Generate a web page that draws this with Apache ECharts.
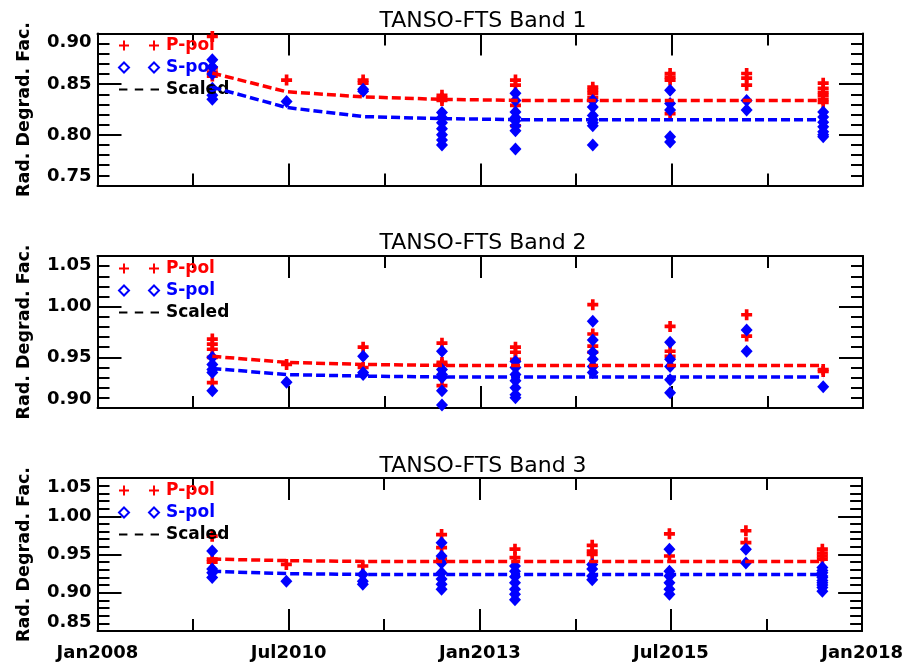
<!DOCTYPE html>
<html>
<head>
<meta charset="utf-8">
<script src="https://cdn.jsdelivr.net/npm/echarts@6/dist/echarts.min.js"></script>
<style>html,body{margin:0;padding:0;background:#fff}#c{width:906px;height:665px}</style>
</head>
<body>
<div id="c"></div>
<script>
// Observation dates (decimal years)
const obsYears = [2009.5, 2010.47, 2011.47, 2012.5, 2013.46, 2014.47, 2015.48, 2016.48, 2017.48];
const xTickLabels = ['Jan2008', 'Jul2010', 'Jan2013', 'Jul2015', 'Jan2018'];
const bandTitles = ['TANSO-FTS Band 1', 'TANSO-FTS Band 2', 'TANSO-FTS Band 3'];
const yRanges = [[0.75, 0.90], [0.90, 1.05], [0.85, 1.05]];

// Band 1
const b1P = [[0.897,0.866,0.862,0.858],[0.854],[0.854,0.851],[0.839,0.836,0.834],[0.854,0.849,0.829,0.809],[0.847,0.844,0.841,0.837],[0.8605,0.857,0.854,0.821],[0.8605,0.856,0.849],[0.851,0.846,0.842,0.839,0.835,0.832]];
const b1S = [[0.874,0.867,0.860,0.846,0.839,0.835],[0.833],[0.845,0.843],[0.822,0.817,0.812,0.806,0.800,0.795,0.790],[0.841,0.834,0.8225,0.817,0.814,0.809,0.804,0.786],[0.834,0.8275,0.819,0.815,0.812,0.809,0.790],[0.844,0.831,0.8245,0.798,0.793],[0.834,0.8245],[0.8225,0.8175,0.8125,0.808,0.803,0.800,0.798]];
const b1PScaled = [0.861,0.8425,0.8375,0.835,0.834,0.834,0.834,0.834,0.834];
const b1SScaled = [0.847,0.827,0.818,0.816,0.815,0.815,0.815,0.815,0.815];
// Band 2
const b2P = [[0.968,0.963,0.958,0.950,0.925],[0.943],[0.960,0.940],[0.964,0.945,0.943,0.922],[0.960,0.955,0.948],[1.002,0.973,0.961,0.955],[0.9805,0.956,0.951],[0.992,0.971],[0.938,0.936]];
const b2S = [[0.950,0.943,0.938,0.935,0.917],[0.9255],[0.951,0.935,0.933],[0.956,0.938,0.933,0.930,0.917,0.903],[0.946,0.940,0.933,0.927,0.920,0.913,0.910],[0.9855,0.967,0.955,0.948,0.941,0.935],[0.965,0.948,0.941,0.928,0.915],[0.977,0.956],[0.921]];
const b2PScaled = [0.951,0.945,0.943,0.942,0.942,0.942,0.942,0.942,0.942];
const b2SScaled = [0.939,0.933,0.9315,0.9306,0.9306,0.9306,0.9306,0.9306,0.9306];
// Band 3
const b3P = [[0.974,0.944,0.940],[0.937],[0.935],[0.976,0.959,0.944],[0.957,0.946],[0.962,0.9545,0.950],[0.977,0.948],[0.981,0.9655],[0.957,0.952,0.948,0.944]];
const b3S = [[0.9546,0.931,0.926,0.920],[0.915],[0.924,0.915,0.911],[0.9655,0.948,0.939,0.926,0.918,0.911,0.9045],[0.935,0.928,0.921,0.913,0.9045,0.898,0.891],[0.937,0.931,0.922,0.917],[0.957,0.928,0.922,0.913,0.9045,0.898],[0.957,0.939],[0.933,0.929,0.926,0.922,0.920,0.916,0.913,0.910,0.907,0.902]];
const b3PScaled = [0.944,0.942,0.941,0.941,0.941,0.941,0.941,0.941,0.941];
const b3SScaled = [0.928,0.925,0.924,0.924,0.924,0.924,0.924,0.924,0.924];

const bandsP = [b1P, b2P, b3P];
const bandsS = [b1S, b2S, b3S];
const bandsPScaled = [b1PScaled, b2PScaled, b3PScaled];
const bandsSScaled = [b1SScaled, b2SScaled, b3SScaled];

const FONT = 'DejaVu Sans';
const RED = '#ff0000', BLUE = '#0000ff';
const gridTops = [33.5, 256, 478];
const gridHeights = [152, 152, 153];
const titleTops = [5, 227, 450];
const legendTops = [37, 260, 482];

function pts(groups) {
  const out = [];
  groups.forEach((g, i) => g.forEach(v => out.push([obsYears[i], v])));
  return out;
}
function linePts(vals) { return vals.map((v, i) => [obsYears[i], v]); }

const plusPath = 'path://M3,0H6V3H9V6H6V9H3V6H0V3H3Z';
const legendPlus = 'path://M4,0H6V4H10V6H6V10H4V6H0V4H4Z M34,0H36V4H40V6H36V10H34V6H30V4H34Z';
const legendDiamonds = 'path://M5,0L10,5L5,10L0,5Z M35,0L40,5L35,10L30,5Z';
const legendDashes = 'path://M0,0H8V2H0Z M15,0H23V2H15Z M30,0H38V2H30Z';

const grid = [], xAxis = [], yAxis = [], series = [], title = [], legend = [];
for (let i = 0; i < 3; i++) {
  grid.push({left: 97.5, right: 43, top: gridTops[i], height: gridHeights[i], containLabel: false});
  title.push({text: bandTitles[i], left: 478, top: titleTops[i], textAlign: 'center',
    textStyle: {fontFamily: FONT, fontSize: 22, fontWeight: 'normal', color: '#000'}});
  const tickCommon = {
    axisLine: {show: true, onZero: false, lineStyle: {color: '#000', width: 2}},
    splitLine: {show: false}
  };
  for (const pos of ['bottom', 'top']) {
    xAxis.push(Object.assign({
      gridIndex: i, type: 'value', position: pos, min: 2008, max: 2018, interval: 2.5,
      axisTick: {show: true, inside: true, length: 22, lineStyle: {color: '#000', width: 2}},
      minorTick: {show: true, splitNumber: 2, length: 12, lineStyle: {color: '#000', width: 2}},
      axisLabel: {show: pos === 'bottom' && i === 2, margin: 13, fontFamily: FONT, fontSize: 18, fontWeight: 'bold', color: '#000',
        formatter: v => xTickLabels[Math.round((v - 2008) / 2.5)] || ''}
    }, tickCommon));
  }
  for (const pos of ['left', 'right']) {
    yAxis.push(Object.assign({
      gridIndex: i, type: 'value', position: pos, min: yRanges[i][0], max: yRanges[i][1], interval: 0.05,
      name: pos === 'left' ? 'Rad. Degrad. Fac.' : '', nameLocation: 'middle', nameGap: 64,
      nameTextStyle: {fontFamily: FONT, fontSize: 17.5, fontWeight: 'bold', color: '#000'},
      axisTick: {show: true, inside: true, length: 24, lineStyle: {color: '#000', width: 2}},
      minorTick: {show: true, splitNumber: 5, length: 12, lineStyle: {color: '#000', width: 2}},
      axisLabel: {show: pos === 'left', margin: 6, fontFamily: FONT, fontSize: 18, fontWeight: 'bold', color: '#000',
        verticalAlignMaxLabel: 'top', verticalAlignMinLabel: 'bottom',
        formatter: v => v.toFixed(2)}
    }, tickCommon));
  }
  const xi = i * 2, yi = i * 2;
  series.push({name: 'P-pol', type: 'scatter', xAxisIndex: xi, yAxisIndex: yi, symbol: plusPath, symbolSize: 11,
    itemStyle: {color: RED, opacity: 1}, data: pts(bandsP[i]), z: 2});
  series.push({name: 'S-pol', type: 'scatter', xAxisIndex: xi, yAxisIndex: yi, symbol: 'diamond', symbolSize: [12, 13],
    itemStyle: {color: BLUE, opacity: 1}, data: pts(bandsS[i]), z: 3});
  series.push({name: 'Scaled', type: 'line', xAxisIndex: xi, yAxisIndex: yi, symbol: 'none',
    lineStyle: {color: RED, width: 3.5, type: [9, 4]}, itemStyle: {color: RED}, data: linePts(bandsPScaled[i]), z: 4});
  series.push({name: 'Scaled', type: 'line', xAxisIndex: xi, yAxisIndex: yi, symbol: 'none',
    lineStyle: {color: BLUE, width: 3.5, type: [9, 4]}, itemStyle: {color: BLUE}, data: linePts(bandsSScaled[i]), z: 4});
  legend.push({
    orient: 'vertical', left: 118, top: legendTops[i], padding: 0, itemGap: 5, itemWidth: 40, itemHeight: 10,
    selectedMode: false,
    textStyle: {fontFamily: FONT, fontSize: 17, fontWeight: 'bold', padding: [0, 0, 0, 2]},
    data: [
      {name: 'P-pol', icon: legendPlus, itemStyle: {color: RED, borderWidth: 0}, textStyle: {color: RED}},
      {name: 'S-pol', icon: legendDiamonds, itemStyle: {color: 'rgba(0,0,0,0)', borderColor: BLUE, borderWidth: 2}, textStyle: {color: BLUE}},
      {name: 'Scaled', icon: legendDashes, itemStyle: {color: '#000', borderWidth: 0}, textStyle: {color: '#000'}}
    ]
  });
}

const chart = echarts.init(document.getElementById('c'), null, {renderer: 'canvas'});
chart.setOption({animation: false, backgroundColor: '#fff', title, grid, xAxis, yAxis, legend, series});
</script>
</body>
</html>
